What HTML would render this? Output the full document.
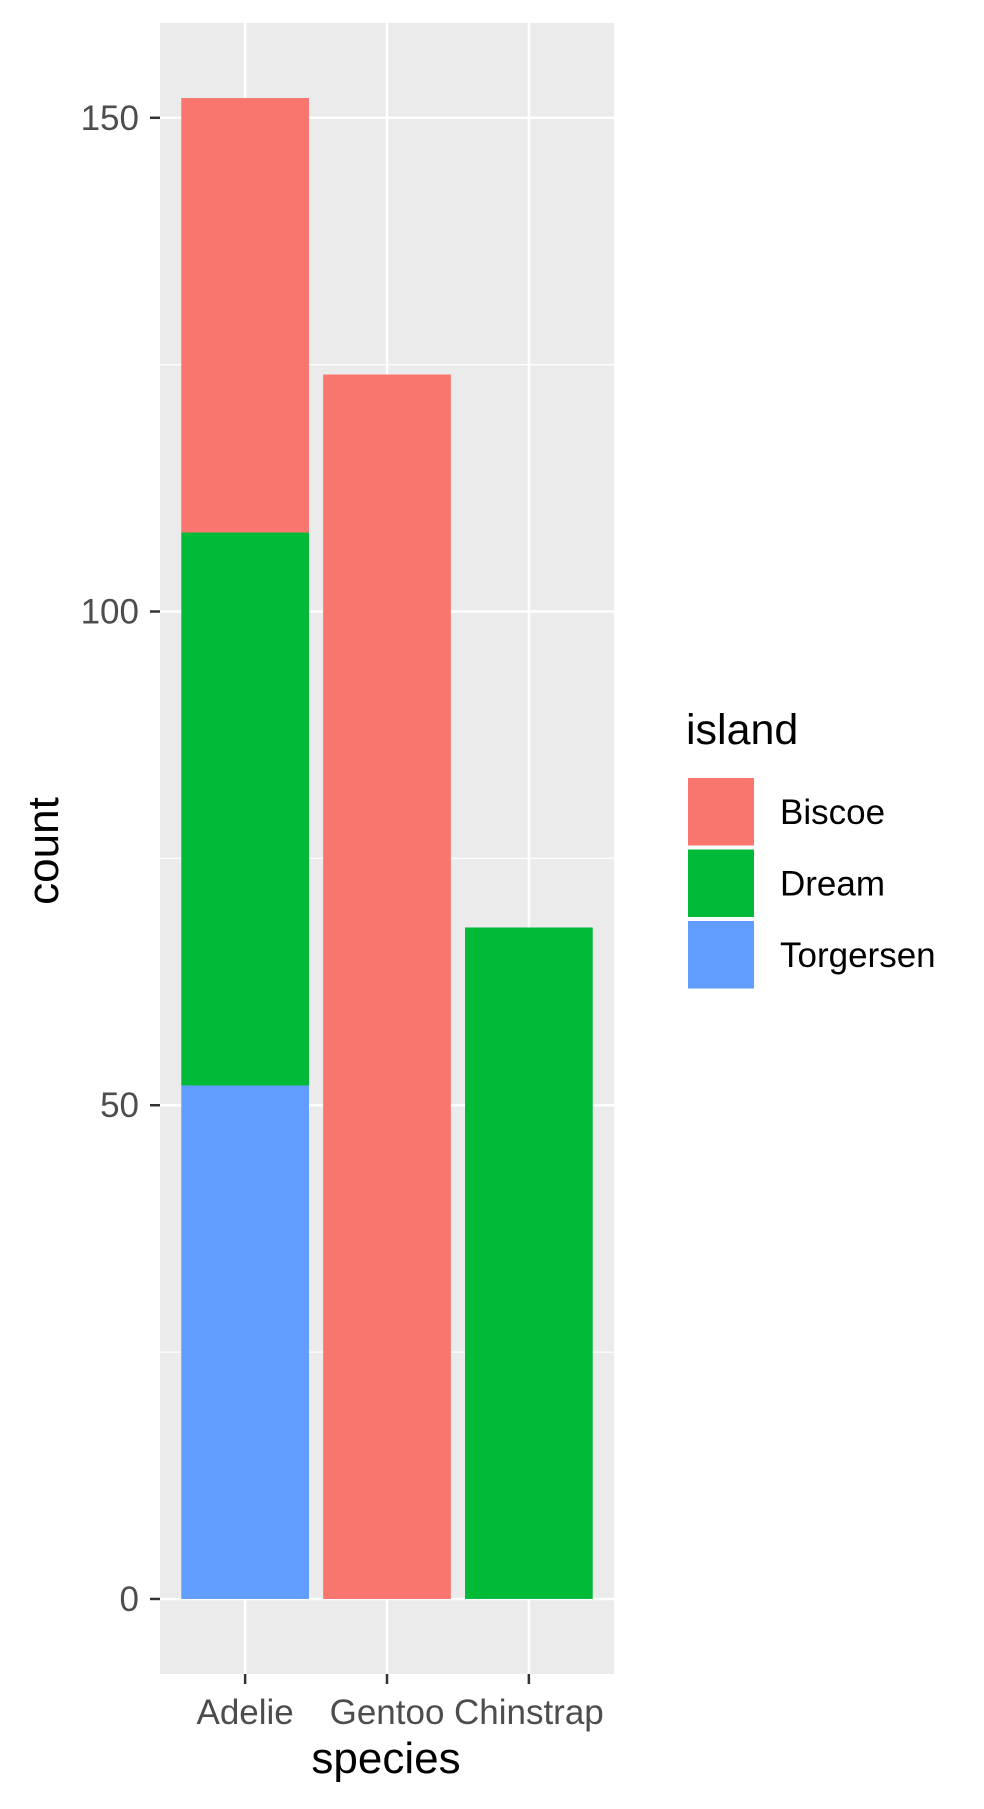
<!DOCTYPE html>
<html><head><meta charset="utf-8"><style>
html,body{margin:0;padding:0;background:#fff;}
svg{display:block;font-family:"Liberation Sans",Arial,sans-serif;}
</style></head><body>
<svg id="chart" width="984" height="1809" viewBox="0 0 984 1809">
<rect x="160" y="23" width="454" height="1651" fill="#EBEBEB"/>
<g id="grid"></g><g id="bars"></g><g id="axes"></g>
<text x="386" y="1773" font-size="44" text-anchor="middle" fill="#000">species</text>
<text transform="translate(58,851) rotate(-90)" font-size="44" text-anchor="middle" fill="#000">count</text>
<g id="legend">
<text x="686" y="744" font-size="43" fill="#000">island</text>
</g>
</svg>
<script>
const categories = ["Adelie","Gentoo","Chinstrap"];
const islands = ["Biscoe","Dream","Torgersen"];
const colors = ["#F8766D","#00BA38","#619CFF"];
const torgersen = [52,0,0];
const dream = [56,0,68];
const biscoe = [44,124,0];
const yTicks = [0,50,100,150];
const yMinor = [25,75,125];
const NS="http://www.w3.org/2000/svg";
const px0=160,px1=614,py0=23,py1=1674,ymin=-7.6,ymax=159.6;
function y(v){return py1-(v-ymin)/(ymax-ymin)*(py1-py0);}
const band=(px1-px0)/(categories.length+0.2);
function x(i){return px0+band*(0.6+i);}
function mk(tag,attrs,parent){const e=document.createElementNS(NS,tag);for(const k in attrs)e.setAttribute(k,attrs[k]);parent.appendChild(e);return e;}
const grid=document.getElementById('grid'),bars=document.getElementById('bars'),axes=document.getElementById('axes'),legend=document.getElementById('legend');
yMinor.forEach(v=>{const l=mk('line',{x1:px0,x2:px1,y1:y(v),y2:y(v),stroke:'#fff','stroke-width':1.2},grid);

});
yTicks.forEach(v=>{const l=mk('line',{x1:px0,x2:px1,y1:y(v),y2:y(v),stroke:'#fff','stroke-width':2.5},grid);


const t=mk('line',{x1:px0-10,x2:px0,y1:y(v),y2:y(v),stroke:'#333','stroke-width':2.5},axes);


const tx=mk('text',{x:px0-21,y:y(v)+12,'font-size':35,'text-anchor':'end',fill:'#4D4D4D'},axes);tx.textContent=v;

});
categories.forEach((c,i)=>{const l=mk('line',{x1:x(i),x2:x(i),y1:py0,y2:py1,stroke:'#fff','stroke-width':2.5},grid);


const t=mk('line',{x1:x(i),x2:x(i),y1:py1,y2:py1+10,stroke:'#333','stroke-width':2.5},axes);


const tx=mk('text',{x:x(i),y:1724,'font-size':35,'text-anchor':'middle',fill:'#4D4D4D'},axes);tx.textContent=c;


const w=band*0.9;let base=0;
[[torgersen,2],[dream,1],[biscoe,0]].forEach(([arr,ci])=>{const v=arr[i];if(v>0){
const r=mk('rect',{x:x(i)-w/2,y:y(base+v),width:w,height:y(base)-y(base+v),fill:colors[ci]},bars);

}base+=v;});});
islands.forEach((s,i)=>{const ky=776+i*71.5;
const r=mk('rect',{x:687,y:ky+1,width:68,height:69.5,fill:colors[i],stroke:'#fff','stroke-width':2},legend);


const t=mk('text',{x:780,y:ky+48,'font-size':35,fill:'#000'},legend);t.textContent=s;

});
</script>
</body></html>
